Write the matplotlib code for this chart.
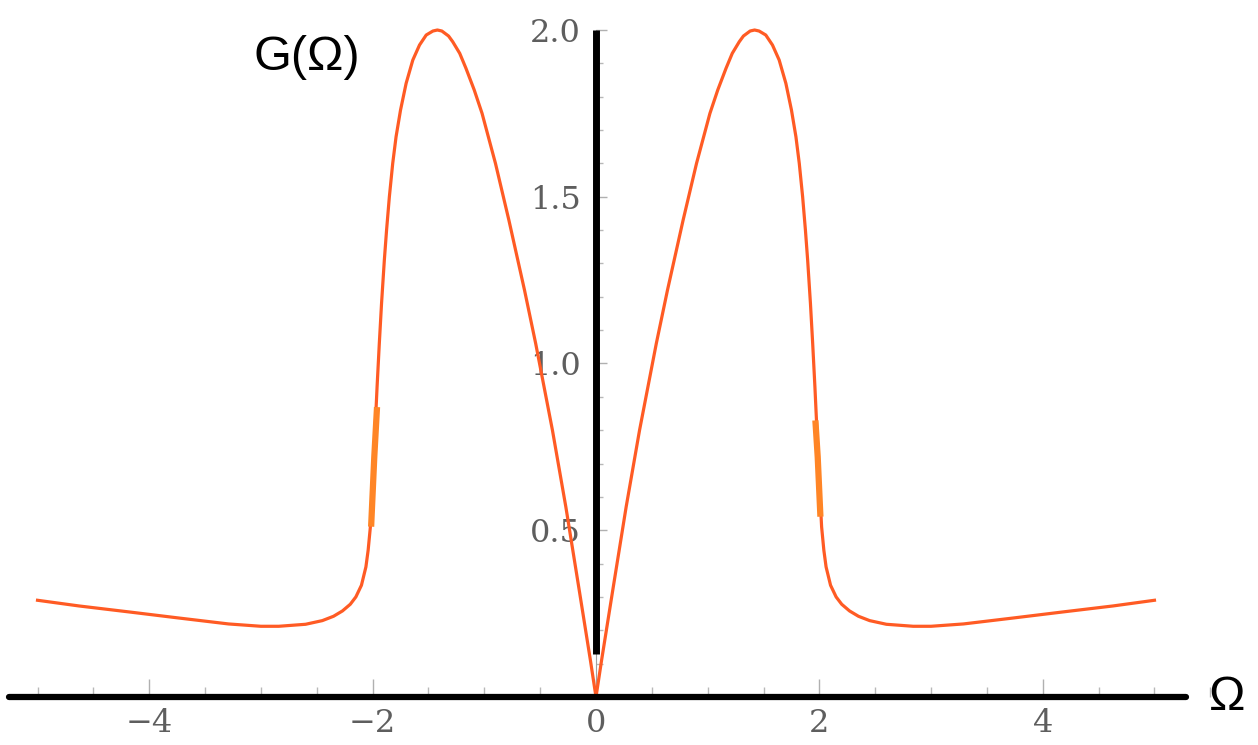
import matplotlib.pyplot as plt
from matplotlib.ticker import MultipleLocator, FixedLocator

omega_right = [0.0, 0.05, 0.15, 0.27, 0.39, 0.54, 0.64, 0.78, 0.90, 1.02, 1.09, 1.164,
               1.22, 1.283, 1.32, 1.38, 1.42, 1.46, 1.52, 1.58, 1.64, 1.70, 1.75,
               1.79, 1.82, 1.85, 1.875, 1.895, 1.92, 1.94, 1.96, 1.985, 2.0, 2.02,
               2.04, 2.06, 2.10, 2.15, 2.20, 2.27, 2.35, 2.45, 2.60, 2.84, 3.0,
               3.29, 3.74, 4.18, 4.63, 5.0]
gain_right = [0.0, 0.11, 0.32, 0.57, 0.80, 1.06, 1.22, 1.43, 1.60, 1.75, 1.82, 1.885,
              1.93, 1.965, 1.982, 1.997, 2.0, 1.997, 1.985, 1.955, 1.91, 1.84, 1.76,
              1.68, 1.60, 1.50, 1.40, 1.31, 1.18, 1.06, 0.93, 0.75, 0.64, 0.51,
              0.44, 0.39, 0.335, 0.30, 0.278, 0.258, 0.242, 0.229, 0.218, 0.212, 0.212,
              0.219, 0.237, 0.255, 0.273, 0.29]
omega_left = [-5.0, -4.63, -4.18, -3.74, -3.29, -3.0, -2.84, -2.60, -2.45, -2.35,
              -2.27, -2.20, -2.15, -2.10, -2.06, -2.04, -2.02, -2.0, -1.985, -1.96,
              -1.94, -1.92, -1.895, -1.875, -1.85, -1.82, -1.79, -1.75, -1.70, -1.64,
              -1.58, -1.52, -1.46, -1.42, -1.38, -1.32, -1.283, -1.22, -1.164, -1.09,
              -1.02, -0.90, -0.78, -0.64, -0.54, -0.39, -0.27, -0.15, -0.05, 0.0]
gain_left = [0.29, 0.273, 0.255, 0.237, 0.219, 0.212, 0.212, 0.218, 0.229, 0.242,
             0.258, 0.278, 0.30, 0.335, 0.39, 0.44, 0.51, 0.64, 0.75, 0.93,
             1.06, 1.18, 1.31, 1.40, 1.50, 1.60, 1.68, 1.76, 1.84, 1.91,
             1.955, 1.985, 1.997, 2.0, 1.997, 1.982, 1.965, 1.93, 1.885, 1.82,
             1.75, 1.60, 1.43, 1.22, 1.06, 0.80, 0.57, 0.32, 0.11, 0.0]

# short thicker bits on the steep flanks
blob_right_x = [1.966, 1.985, 2.008]
blob_right_y = [0.82, 0.72, 0.55]
blob_left_x = [-1.962, -1.985, -2.012]
blob_left_y = [0.86, 0.72, 0.52]

x_major = [-4, -2, 0, 2, 4]
x_labels = ['\u22124', '\u22122', '0', '2', '4']
y_major = [0.5, 1.0, 1.5, 2.0]
y_labels = ['0.5', '1.0', '1.5', '2.0']

fig = plt.figure(figsize=(12.58, 7.45), dpi=100)
ax = fig.add_axes([0, 0, 1, 1])
ax.set_xlim(-5.336, 5.927)
ax.set_ylim(-0.144, 2.090)
ax.patch.set_alpha(0)

curve_color = '#ff5b24'
ax.plot(omega_left + omega_right[1:], gain_left + gain_right[1:],
        color=curve_color, lw=2.3, solid_joinstyle='round', zorder=3)
ax.plot(blob_right_x, blob_right_y, color='#ff8526', lw=4.5, zorder=3)
ax.plot(blob_left_x, blob_left_y, color='#ff8526', lw=4.5, zorder=3)

# axes through the origin, mathematica style ticks pointing inward
for side in ['top', 'right']:
    ax.spines[side].set_visible(False)
ax.spines['left'].set_position(('data', 0))
ax.spines['bottom'].set_position(('data', 0))
ax.spines['left'].set_bounds(0, 2.0)
ax.spines['bottom'].set_bounds(-5.0, 5.0)
ax.spines['left'].set_color('#a0a0a0')
ax.spines['bottom'].set_color('#a0a0a0')
ax.spines['left'].set_linewidth(0.8)
ax.spines['bottom'].set_linewidth(0.8)

ax.xaxis.set_major_locator(FixedLocator(x_major))
ax.set_xticklabels(x_labels)
ax.xaxis.set_minor_locator(MultipleLocator(0.5))
ax.yaxis.set_major_locator(FixedLocator(y_major))
ax.set_yticklabels(y_labels)
ax.yaxis.set_minor_locator(FixedLocator([i / 10 for i in range(1, 20)]))

ax.tick_params(axis='x', which='major', direction='in', length=13, width=1,
               color='#b0b0b0', pad=8)
ax.tick_params(axis='x', which='minor', direction='in', length=7, width=1,
               color='#b8b8b8')
ax.tick_params(axis='y', which='major', direction='in', length=8, width=1,
               color='#b0b0b0', pad=11)
ax.tick_params(axis='y', which='minor', direction='in', length=5, width=1,
               color='#b8b8b8')
for lab in ax.get_xticklabels() + ax.get_yticklabels():
    lab.set_fontfamily('DejaVu Serif')
    lab.set_fontsize(23)
    lab.set_color('#5e5e5e')

# heavy black axis lines drawn on top
ax.plot([-5.255, 5.28], [0, 0], color='black', lw=4.5, solid_capstyle='round', zorder=5)
ax.plot([0, 0], [0.13, 2.0], color='black', lw=5, solid_capstyle='butt', zorder=5)

fig.text(253 / 1258, 1 - 57 / 745, 'G(\u03a9)', fontsize=35, family='Liberation Sans',
         ha='left', va='center', color='black')
fig.text(1209 / 1258, 1 - 697 / 745, '\u03a9', fontsize=35, family='Liberation Sans',
         ha='left', va='center', color='black')

fig.savefig('out.png', dpi=100, facecolor='white')
